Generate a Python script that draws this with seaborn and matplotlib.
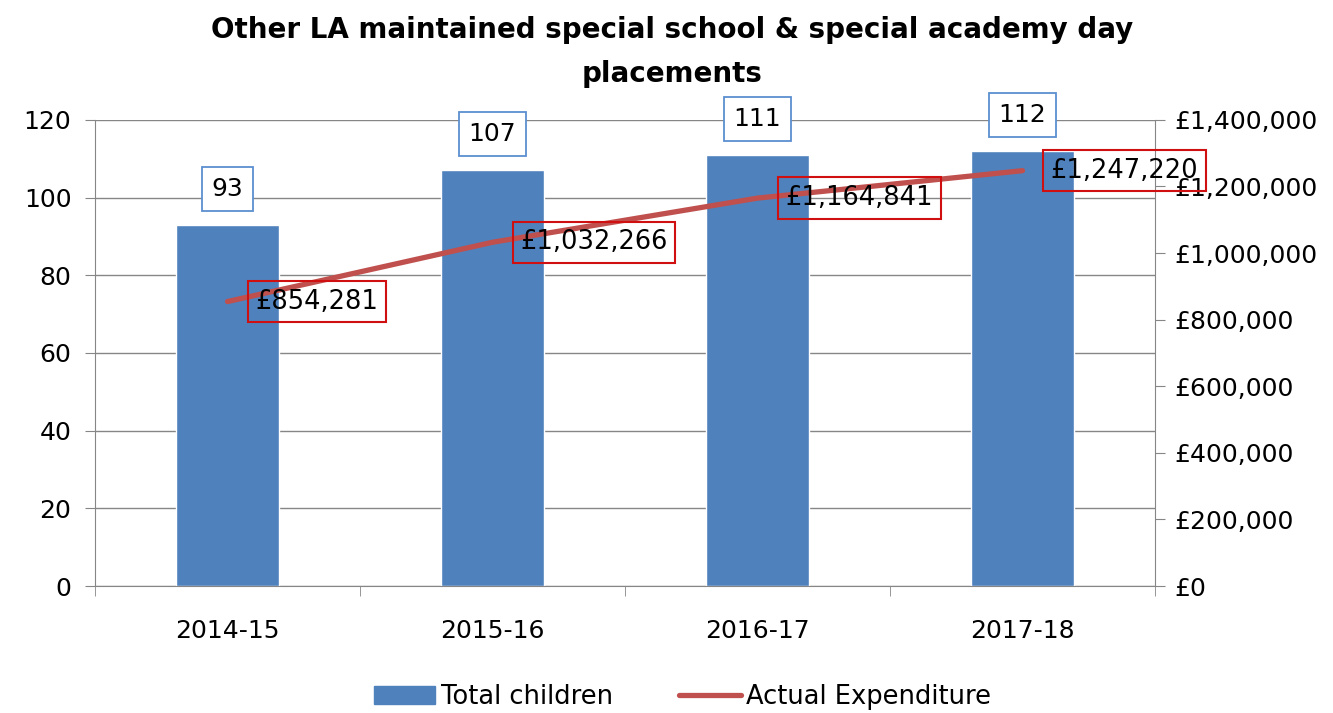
import numpy as np
import seaborn as sns
import matplotlib.pyplot as plt
from matplotlib.patches import Patch
from matplotlib.lines import Line2D
from matplotlib.ticker import FuncFormatter, MultipleLocator

# data
years = ['2014-15', '2015-16', '2016-17', '2017-18']
children = [93, 107, 111, 112]
expenditure = [854281, 1032266, 1164841, 1247220]

bar_col = '#4F81BD'
line_col = '#C0504D'
grey = '#868686'

sns.set_style('white')
plt.rcParams['font.family'] = ['DejaVu Sans']
plt.rcParams['text.color'] = 'black'
plt.rcParams['xtick.color'] = 'black'
plt.rcParams['ytick.color'] = 'black'

fig = plt.figure(figsize=(13.33, 7.13), dpi=100)
ax = fig.add_axes([0.0713, 0.178, 0.7952, 0.654])

sns.barplot(x=years, y=children, color=bar_col, width=0.39, saturation=1, ax=ax)
ax.set_xlim(-0.5, 3.5)
ax.set_ylim(0, 120)
ax.yaxis.set_major_locator(MultipleLocator(20))
ax.grid(axis='y', color=grey, lw=1)
ax.set_axisbelow(True)
for s in ['left', 'bottom']:
    ax.spines[s].set_color(grey)
ax.spines['top'].set_visible(False)
ax.spines['right'].set_visible(False)
ax.tick_params(axis='y', left=True, length=7, color=grey, labelcolor='black', labelsize=18, pad=10)
ax.set_xticks(np.arange(len(years)))
ax.set_xticklabels(years)
ax.set_xticks(np.arange(-0.5, 4.0, 1), minor=True)
ax.tick_params(axis='x', which='major', length=0, labelsize=18, labelcolor='black', pad=24)
ax.tick_params(axis='x', which='minor', bottom=True, length=7, color=grey)

# boxed labels for the bars
for i, v in enumerate(children):
    ax.annotate(str(v), (i, v), xytext=(0, 26), textcoords='offset points',
                ha='center', va='center', fontsize=18, zorder=5,
                bbox=dict(boxstyle='square,pad=0.4', fc='white', ec='#5B8FD0', lw=1.3))

ax2 = ax.twinx()
sns.lineplot(x=np.arange(len(years)), y=expenditure, color=line_col, lw=3.8, ax=ax2)
ax2.set_ylim(0, 1400000)
ax2.yaxis.set_major_locator(MultipleLocator(200000))
ax2.yaxis.set_major_formatter(FuncFormatter(lambda v, p: '£{:,.0f}'.format(v)))
ax2.spines['right'].set_color(grey)
ax2.spines['top'].set_visible(False)
ax2.spines['left'].set_visible(False)
ax2.spines['bottom'].set_visible(False)
ax2.tick_params(axis='y', right=True, length=7, color=grey, labelcolor='black', labelsize=18, pad=7)
ax2.set_xlabel('')
ax2.set_ylabel('')
ax.set_xlabel('')
ax.set_ylabel('')

for i, v in enumerate(expenditure):
    ax2.annotate('£{:,.0f}'.format(v), (i, v), xytext=(20, 0), textcoords='offset points',
                 ha='left', va='center', fontsize=18.5, zorder=6,
                 bbox=dict(boxstyle='square,pad=0.3', fc='none', ec='#D01010', lw=1.5))

fig.suptitle('Other LA maintained special school & special academy day\nplacements',
             x=0.504, y=0.978, fontsize=20, fontweight='bold', linespacing=1.75)

handles = [Patch(color=bar_col), Line2D([0], [0], color=line_col, lw=3.8)]
fig.legend(handles, ['Total children', 'Actual Expenditure'], loc='center',
           bbox_to_anchor=(0.512, 0.022), ncol=2, frameon=False, fontsize=18.5,
           handlelength=2.4, handletextpad=0.2, columnspacing=2.6)

fig.savefig('out.png', dpi=100)
